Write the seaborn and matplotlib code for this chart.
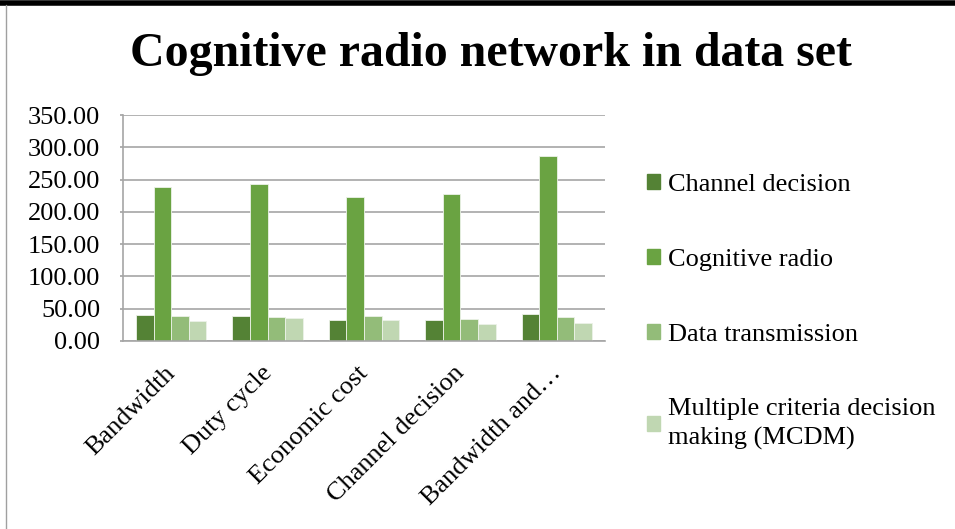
import matplotlib
matplotlib.use("Agg")
import matplotlib.pyplot as plt
import pandas as pd
import seaborn as sns
from matplotlib.lines import Line2D
from matplotlib.transforms import ScaledTranslation

# Data
categories = ["Bandwidth", "Duty cycle", "Economic cost", "Channel decision", "Bandwidth and\u2026"]
series = ["Channel decision", "Cognitive radio", "Data transmission",
          "Multiple criteria decision making (MCDM)"]
channel_decision = [40.3, 38.2, 33.0, 32.5, 42.3]
cognitive_radio = [239.0, 242.6, 222.5, 227.7, 286.0]
data_transmission = [38.2, 37.7, 38.2, 34.0, 37.2]
mcdm = [31.5, 36.1, 32.5, 26.8, 28.4]
yticks = [0, 50, 100, 150, 200, 250, 300, 350]

colors = ["#548235", "#6AA342", "#93BC79", "#C0D7B2"]

rows = []
for name, vals in zip(series, [channel_decision, cognitive_radio, data_transmission, mcdm]):
    for cat, v in zip(categories, vals):
        rows.append({"category": cat, "series": name, "value": v})
df = pd.DataFrame(rows)

sns.set_theme(style="white")
plt.rcParams["font.family"] = ["Liberation Serif", "DejaVu Serif"]
plt.rcParams["text.color"] = "black"
plt.rcParams["xtick.labelcolor"] = "black"
plt.rcParams["ytick.labelcolor"] = "black"

fig = plt.figure(figsize=(9.55, 5.29), dpi=100)
ax = fig.add_axes([0.1288, 0.3554, 0.5047, 0.4272])

sns.barplot(data=df, x="category", y="value", hue="series", hue_order=series,
            palette=colors, saturation=1, width=0.73, gap=0, edgecolor="#ECF2E8",
            linewidth=0.6, ax=ax, legend=False)

ax.set_ylim(0, 350)
ax.set_xlim(-0.5, len(categories) - 0.5)
ax.set_yticks(yticks)
ax.set_yticklabels([f"{v:.2f}" for v in yticks], fontsize=19)
ax.yaxis.grid(True, color="#A6A6A6", linewidth=1.2)
ax.set_axisbelow(True)
ax.set_xlabel("")
ax.set_ylabel("")
for s in ["top", "right"]:
    ax.spines[s].set_visible(False)
for s in ["left", "bottom"]:
    ax.spines[s].set_color("#A6A6A6")
    ax.spines[s].set_linewidth(1.2)
ax.tick_params(axis="y", left=True, length=2.5, color="#A6A6A6", pad=14)
ax.tick_params(axis="x", bottom=False, pad=9)
shift = ScaledTranslation(-7 / 100, 0, fig.dpi_scale_trans)
for lab in ax.get_xticklabels():
    lab.set_rotation(45)
    lab.set_ha("right")
    lab.set_rotation_mode("anchor")
    lab.set_fontsize(19)
    lab.set_transform(lab.get_transform() + shift)

fig.text(0.514, 0.897, "Cognitive radio network in data set", ha="center", va="center",
         fontsize=34.5, fontweight="bold")

handles = [plt.Rectangle((0, 0), 1, 1, color=c) for c in colors]
labels = ["Channel decision", "Cognitive radio", "Data transmission",
          "Multiple criteria decision\nmaking (MCDM)"]
leg = fig.legend(handles, labels, loc="upper left", bbox_to_anchor=(0.677, 0.671),
                 frameon=False, fontsize=19, handlelength=0.5, handleheight=0.5,
                 handletextpad=0.3, labelspacing=2.0, borderaxespad=0, borderpad=0)
for t in leg.get_texts():
    t.set_linespacing(1.35)

# outer frame of the original picture
fig.add_artist(Line2D([0, 1], [0.995, 0.995], transform=fig.transFigure, color="black", linewidth=4))
fig.add_artist(Line2D([0.006, 0.006], [0, 0.99], transform=fig.transFigure, color="#A0A0A0", linewidth=1))

fig.savefig("out.png", dpi=100)
